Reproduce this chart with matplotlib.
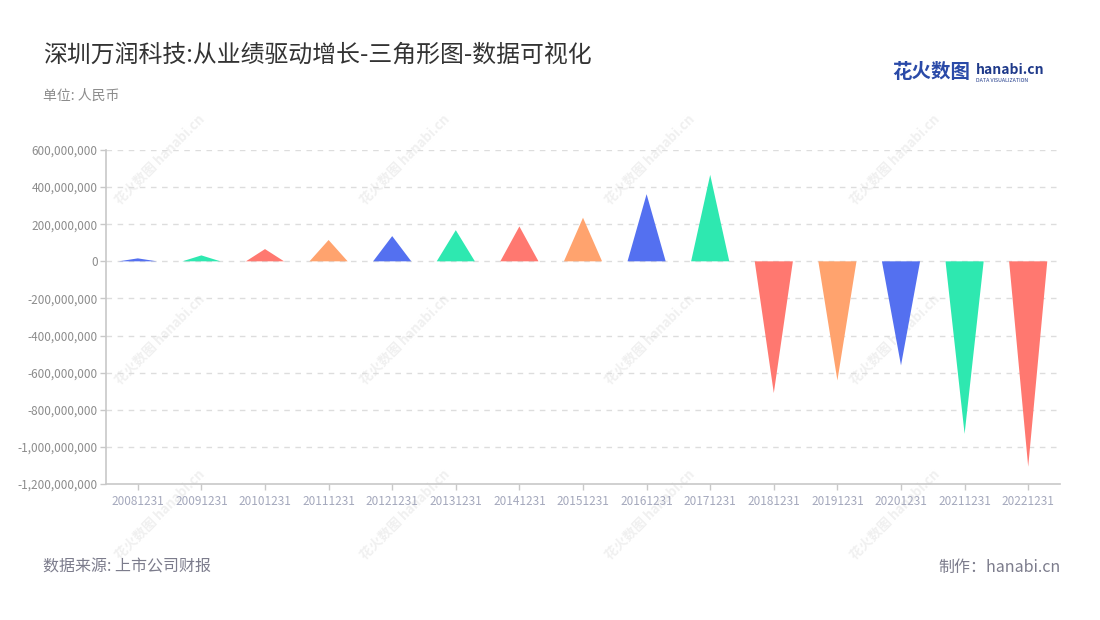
import matplotlib
matplotlib.use("Agg")
import matplotlib.pyplot as plt
from matplotlib.ticker import FuncFormatter

plt.rcParams['font.family'] = ['Noto Sans CJK SC', 'DejaVu Sans']

categories = ["20081231", "20091231", "20101231", "20111231", "20121231",
              "20131231", "20141231", "20151231", "20161231", "20171231",
              "20181231", "20191231", "20201231", "20211231", "20221231"]
values = [16e6, 32e6, 66e6, 115e6, 136e6, 168e6, 188e6, 235e6, 362e6, 466e6,
          -710e6, -642e6, -561e6, -930e6, -1107e6]
palette = ["#5470F0", "#2EE8B0", "#FF7870", "#FFA36E"]
yticks = [600e6, 400e6, 200e6, 0, -200e6, -400e6, -600e6, -800e6, -1000e6, -1200e6]

title = "深圳万润科技:从业绩驱动增长-三角形图-数据可视化"
unit = "单位: 人民币"
source = "数据来源: 上市公司财报"
maker = "制作：hanabi.cn"

W, H = 1100, 620
fig = plt.figure(figsize=(W / 100, H / 100), dpi=100)
fig.patch.set_facecolor("white")

# watermarks
for wx in [160, 405, 650, 895]:
    for wy in [160, 340, 515]:
        fig.text(wx / W, 1 - wy / H, "花火数图 hanabi.cn", rotation=45,
                 ha="center", va="center", fontsize=9.5, color="#f0f0f0",
                 fontweight="bold", zorder=0)

ax = fig.add_axes([106 / W, 1 - 484 / H, (1060 - 106) / W, (484 - 150) / H])
ax.set_facecolor("none")
ax.set_zorder(1)

width = 0.6
for i, v in enumerate(values):
    ax.fill([i - width / 2, i, i + width / 2], [0, v, 0],
            color=palette[i % 4], linewidth=0, zorder=3)

ax.set_xlim(-0.5, len(categories) - 0.5)
ax.set_ylim(-1200e6, 600e6)
ax.set_yticks(yticks)
ax.yaxis.set_major_formatter(FuncFormatter(lambda v, p: f"{int(v):,}"))
ax.set_xticks(range(len(categories)))
ax.set_xticklabels(categories)

for y in yticks:
    if y != -1200e6:
        ax.axhline(y, color="#dddddd", linestyle=(0, (4, 4)), linewidth=1, zorder=1)

for s in ["top", "right"]:
    ax.spines[s].set_visible(False)
for s in ["left", "bottom"]:
    ax.spines[s].set_color("#c8c8c8")
    ax.spines[s].set_linewidth(1.2)

ax.tick_params(axis="y", colors="#c8c8c8", labelcolor="#8c8c8c", labelsize=8.5,
               length=4, width=1, pad=2)
ax.tick_params(axis="x", colors="#c8c8c8", labelcolor="#a4a8bc", labelsize=8.5,
               length=4, width=1, pad=4)

fig.text(43 / W, 1 - 55 / H, title, fontsize=17.2, color="#333333", ha="left", va="center")
fig.text(43 / W, 1 - 96 / H, unit, fontsize=10, color="#8c8c8c", ha="left", va="center")
fig.text(43 / W, 1 - 567 / H, source, fontsize=11.5, color="#7c7c8c", ha="left", va="center")
fig.text(1061 / W, 1 - 567 / H, maker, fontsize=11.5, color="#7c7c8c", ha="right", va="center")

# logo
fig.text(892 / W, 1 - 72 / H, "花火数图", fontsize=14, color="#2a4aa8",
         fontweight="bold", ha="left", va="center")
fig.text(976 / W, 1 - 70 / H, "hanabi.cn", fontsize=10, color="#1f3a8a",
         fontweight="bold", ha="left", va="center")
fig.text(976 / W, 1 - 80 / H, "DATA VISUALIZATION", fontsize=3.8, color="#1f3a8a",
         ha="left", va="center")

fig.savefig("out.png", dpi=100)
